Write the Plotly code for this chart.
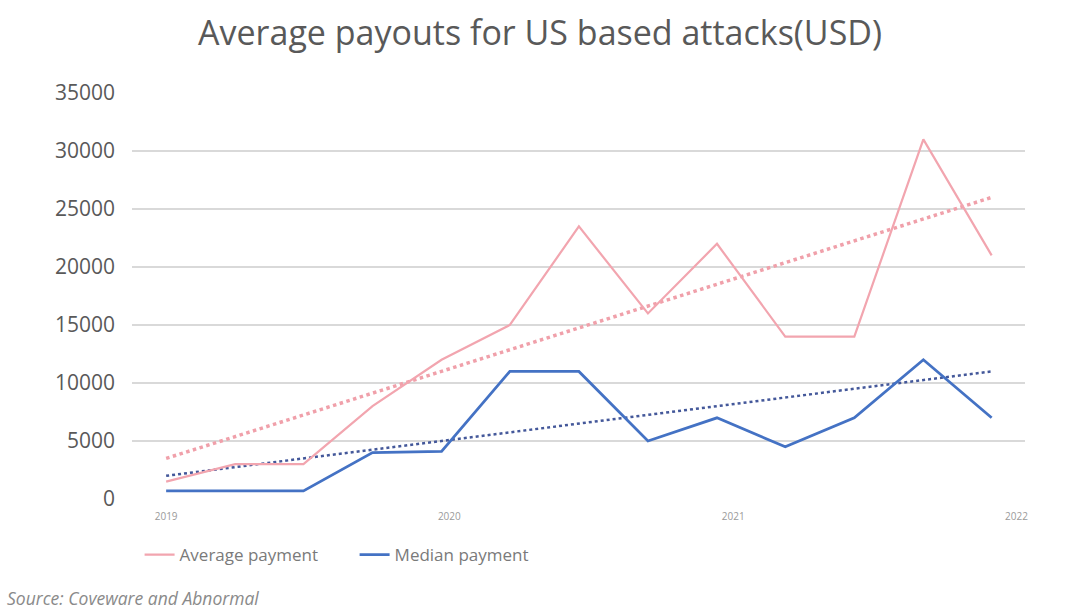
import plotly.graph_objects as go

# ---- data ----
dates = ["2019-01-01", "2019-03-31", "2019-06-27", "2019-09-24", "2019-12-22",
         "2020-03-19", "2020-06-16", "2020-09-13", "2020-12-11", "2021-03-09",
         "2021-06-06", "2021-09-03", "2021-11-30"]
average_payment = [1500, 3000, 3000, 8000, 12000, 15000, 23500, 16000, 22000,
                   14000, 14000, 31000, 21000]
median_payment = [700, 700, 700, 4000, 4100, 11000, 11000, 5000, 7000,
                  4500, 7000, 12000, 7000]
trend_dates = ["2019-01-01", "2021-11-30"]
average_trend = [3500, 26000]
median_trend = [2000, 11000]
x_ticks = ["2019-01-01", "2020-01-01", "2021-01-01", "2022-01-01"]
x_tick_labels = ["2019", "2020", "2021", "2022"]
y_ticks = [0, 5000, 10000, 15000, 20000, 25000, 30000, 35000]
y_tick_labels = ["0", "5000", "10000", "15000", "20000", "25000", "30000", "35000"]

PINK = "#F2A5AF"
BLUE = "#4472C4"
PINK_TREND = "#F0A0AA"
BLUE_TREND = "#44589A"

fig = go.Figure()
fig.add_trace(go.Scatter(x=trend_dates, y=average_trend, mode="lines",
                         line=dict(color=PINK_TREND, width=3.5, dash="dot"),
                         showlegend=False, hoverinfo="skip"))
fig.add_trace(go.Scatter(x=trend_dates, y=median_trend, mode="lines",
                         line=dict(color=BLUE_TREND, width=2.5, dash="dot"),
                         showlegend=False, hoverinfo="skip"))
fig.add_trace(go.Scatter(x=dates, y=average_payment, mode="lines",
                         name="Average payment",
                         line=dict(color=PINK, width=2.2)))
fig.add_trace(go.Scatter(x=dates, y=median_payment, mode="lines",
                         name="Median payment",
                         line=dict(color=BLUE, width=2.8)))

fig.update_layout(
    width=1080, height=610,
    paper_bgcolor="white", plot_bgcolor="white",
    margin=dict(l=132, r=55, t=93, b=111),
    title=dict(text="Average payouts for US based attacks(USD)",
               x=0.5, xanchor="center", y=0.945, yanchor="middle",
               font=dict(family="Open Sans", size=34, color="#595959")),
    xaxis=dict(type="date", range=["2018-11-18", "2022-01-12"],
               tickvals=x_ticks, ticktext=x_tick_labels,
               showgrid=False, zeroline=False, showline=False,
               ticks="", ticklabelstandoff=10,
               tickfont=dict(family="Open Sans", size=10, color="#9a9a9a")),
    yaxis=dict(range=[0, 35000], tickvals=y_ticks, ticktext=y_tick_labels,
               showgrid=True, gridcolor="#d9d9d9", gridwidth=2,
               zeroline=False, showline=False, ticks="",
               ticklabelstandoff=16,
               tickfont=dict(family="Open Sans", size=21, color="#595959")),
    legend=dict(orientation="h", x=0.0085, xanchor="left",
                y=-0.138, yanchor="middle",
                font=dict(family="Open Sans", size=17, color="#7a7a7a"),
                itemwidth=30, entrywidth=170, tracegroupgap=0,
                bgcolor="rgba(0,0,0,0)"),
    annotations=[dict(text="<i>Source: Coveware and Abnormal</i>",
                      xref="paper", yref="paper",
                      x=-0.142, xanchor="left", y=-0.244, yanchor="middle",
                      showarrow=False,
                      font=dict(family="Open Sans", size=17.5, color="#8a8a8a"))],
)

fig.write_html("out.html", config={"displayModeBar": False},
               post_script="document.body.style.margin='0';")
